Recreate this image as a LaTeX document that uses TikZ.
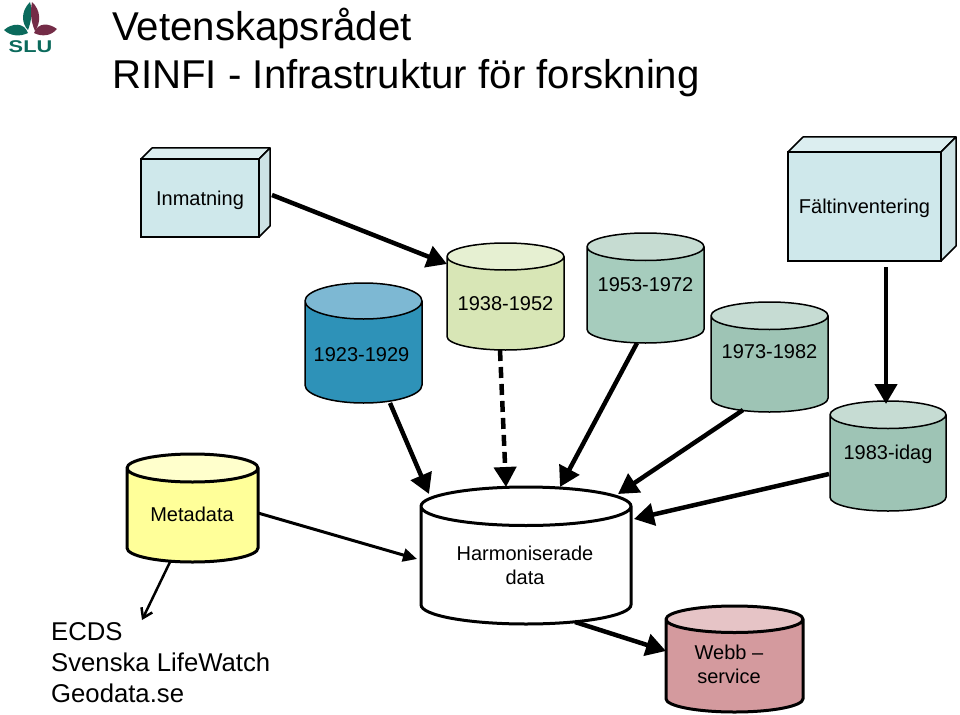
\documentclass[tikz,border=0pt]{standalone}
\usepackage{fontspec}
\setmainfont{Liberation Sans}
\usetikzlibrary{shapes.geometric,arrows.meta}
\definecolor{boxfront}{HTML}{CFE8EB}
\definecolor{boxtop}{HTML}{DCEEF0}
\definecolor{boxside}{HTML}{CDE2E5}
\definecolor{sluteal}{HTML}{0B6A5C}
\definecolor{slured}{HTML}{742C47}
\tikzset{
  every label/.style={font=\fontsize{20}{24}\selectfont,align=center},
  cyl/.style={cylinder,shape border rotate=90,draw=black,line width=1.5pt,inner sep=5pt,outer sep=0pt,
    cylinder uses custom fill,anchor=shape center},
  box3d/.style={rectangle,draw=black,line width=1.5pt,fill=boxfront,outer sep=0pt,text depth=0pt,font=\fontsize{20}{24}\selectfont},
  boxface/.style={draw=black,line width=1.5pt,line join=round},
  arr/.style={draw=black,line width=4.5pt,-{Triangle[length=20pt,width=22pt]}},
  heading/.style={anchor=base west,inner sep=0pt,font=\fontsize{40.2}{47}\selectfont},
}
\begin{document}
\begin{tikzpicture}[x=1pt,y=-1pt]
  \useasboundingbox (0,0) rectangle (960,714);

  % logo
  \fill[sluteal] (4,30) .. controls (12,23) and (24,22) .. (28,33) .. controls (20,37) and (10,36) .. (4,30) -- cycle;
  \fill[slured] (57,29) .. controls (49,23) and (38,22) .. (34,33) .. controls (42,37) and (51,36) .. (57,29) -- cycle;
  \fill[sluteal] (30,2) .. controls (20,12) and (22,24) .. (28,30) .. controls (31,22) and (33,12) .. (30,2) -- cycle;
  \fill[slured] (32,2) .. controls (41,10) and (41,23) .. (35,31) .. controls (31,22) and (30,12) .. (32,2) -- cycle;
  \node[xscale=1.28,text=sluteal,inner sep=0pt,font=\fontsize{17}{17}\selectfont\bfseries] (slu) at (30.5,47) {SLU};

  % title
  \node[heading] (title1) at (112,41) {Vetenskapsrådet};
  \node[heading] (title2) at (112,89) {RINFI - Infrastruktur för forskning};

  % boxes
  \node[box3d,minimum width=118pt,minimum height=78pt] (inmatning) at (200,198) {Inmatning};
  \filldraw[boxface,fill=boxtop] (inmatning.north west) -- ++(11,-11) -- ++(118,0) -- (inmatning.north east) -- cycle;
  \filldraw[boxface,fill=boxside] (inmatning.north east) -- ++(11,-11) -- ++(0,78) -- (inmatning.south east) -- cycle;
  \node[box3d,minimum width=153pt,minimum height=109pt] (falt) at (864.5,206.5) {Fältinventering};
  \filldraw[boxface,fill=boxtop] (falt.north west) -- ++(15,-15) -- ++(153,0) -- (falt.north east) -- cycle;
  \filldraw[boxface,fill=boxside] (falt.north east) -- ++(15,-15) -- ++(0,109) -- (falt.south east) -- cycle;

  % cylinders
  \node[cyl,cylinder body fill={rgb,255:red,46;green,146;blue,184},cylinder end fill={rgb,255:red,125;green,184;blue,211},minimum width=117pt,minimum height=120pt,aspect=3.6,label={[xshift=-2pt,yshift=1pt]center:1923-1929}] (c23) at (363.5,343) {};
  \node[cyl,cylinder body fill={rgb,255:red,216;green,230;blue,182},cylinder end fill={rgb,255:red,230;green,240;blue,210},minimum width=117pt,minimum height=107pt,aspect=2.7,label={[yshift=3pt]center:1938-1952}] (c38) at (505.5,296.5) {};
  \node[cyl,cylinder body fill={rgb,255:red,166;green,204;blue,189},cylinder end fill={rgb,255:red,198;green,220;blue,210},minimum width=117pt,minimum height=110pt,aspect=2.75,label={[yshift=13pt]center:1953-1972}] (c53) at (645.5,288) {};
  \node[cyl,cylinder body fill={rgb,255:red,158;green,196;blue,181},cylinder end fill={rgb,255:red,198;green,220;blue,211},minimum width=117pt,minimum height=110pt,aspect=2.75,label={[yshift=15pt]center:1973-1982}] (c73) at (769.5,357) {};
  \node[cyl,cylinder body fill={rgb,255:red,158;green,196;blue,181},cylinder end fill={rgb,255:red,198;green,220;blue,211},minimum width=116pt,minimum height=110pt,aspect=2.75,label={[yshift=12pt]center:1983-idag}] (c83) at (888,456) {};
  \node[cyl,line width=3pt,cylinder body fill={rgb,255:red,255;green,255;blue,153},cylinder end fill={rgb,255:red,255;green,255;blue,204},minimum width=131pt,minimum height=108pt,aspect=2.8,label={[xshift=-.5pt,yshift=4pt]center:Metadata}] (meta) at (192.5,508) {};
  \node[cyl,line width=3pt,cylinder body fill=white,cylinder end fill=white,minimum width=210pt,minimum height=137pt,aspect=3.85,label={[xshift=-1pt,yshift=3pt]center:Harmoniserade\\data}] (harm) at (526,555.5) {};
  \node[cyl,line width=3pt,cylinder body fill={rgb,255:red,212;green,154;blue,158},cylinder end fill={rgb,255:red,230;green,196;blue,198},minimum width=137pt,minimum height=106pt,aspect=2.65,label={[xshift=-5.5pt,yshift=5pt]center:Webb --\\service}] (webb) at (734.5,659) {};

  \node[anchor=north west,inner sep=0pt,align=left,font=\fontsize{25.7}{31}\selectfont] (ecds) at (51,622) {ECDS\\Svenska LifeWatch\\Geodata.se};

  % arrows
  \draw[arr] ([shift={(13,-3)}]inmatning.east) -- ([shift={(-58.5,-32.5)}]c38.shape center);
  \draw[arr] ([shift={(21.5,6)}]falt.south) -- ([shift={(-2,-52)}]c83.shape center);
  \draw[arr] ([shift={(26.5,60)}]c23.shape center) -- ([shift={(-97,-61.5)}]harm.shape center);
  \draw[arr,dash pattern=on 11pt off 6pt] ([shift={(-5.5,53.5)}]c38.shape center) -- ([shift={(-20,-68.5)}]harm.shape center);
  \draw[arr] ([shift={(-8.5,55)}]c53.shape center) -- ([shift={(34,-68.5)}]harm.shape center);
  \draw[arr] ([shift={(-26.5,53)}]c73.shape center) -- ([shift={(92,-61.5)}]harm.shape center);
  \draw[arr] ([shift={(-59,18)}]c83.shape center) -- ([shift={(108,-36.5)}]harm.shape center);
  \draw[line width=3pt,draw=black,-{Triangle[length=14pt,width=13pt]}] ([shift={(65.5,5)}]meta.shape center) -- ([shift={(-109,3.5)}]harm.shape center);
  \draw[line width=2.5pt,draw=black,-{Straight Barb[length=9pt,width=12pt]}] ([shift={(-22.5,54)}]meta.shape center) -- ([shift={(91,-2)}]ecds.north west);
  \draw[arr] ([shift={(49,66.5)}]harm.shape center) -- ([shift={(-68.5,-8)}]webb.shape center);
\end{tikzpicture}
\end{document}
